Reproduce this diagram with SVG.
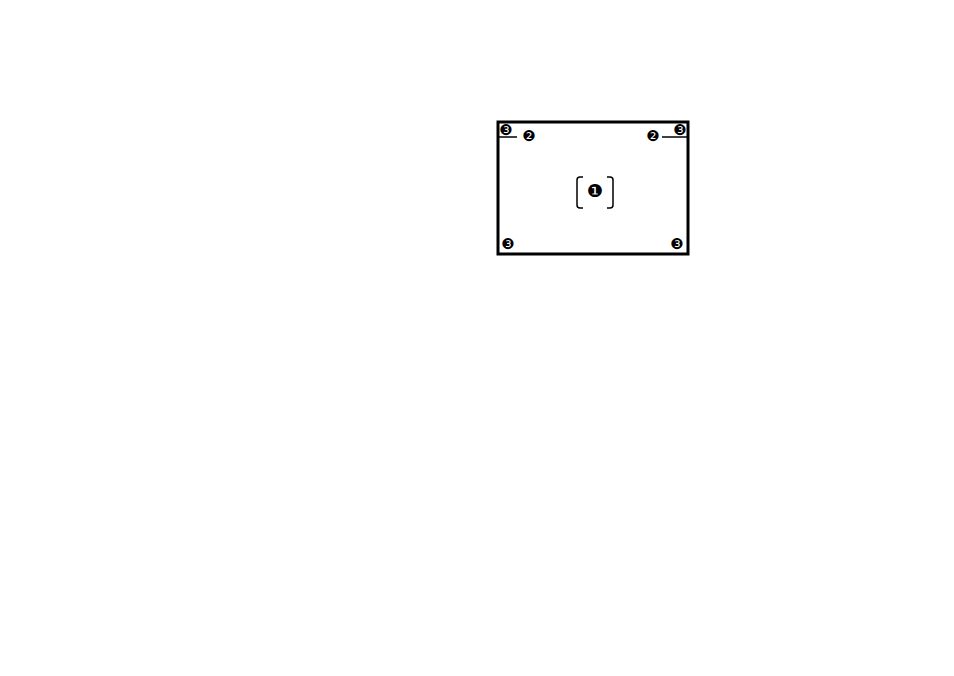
<svg xmlns="http://www.w3.org/2000/svg" width="954" height="676" viewBox="0 0 954 676">
<style>
.lbl{font-family:"DejaVu Sans",sans-serif;font-size:15px;fill:#000;text-anchor:middle;dominant-baseline:central}
.big{font-size:18px}
.ln{stroke:#000;stroke-width:1.5;fill:none}
</style>
<rect width="954" height="676" fill="#fff"/>
<g id="frame">
<rect x="498" y="122" width="190" height="132" fill="#fff" stroke="#000" stroke-width="3"/>
</g>
<g id="connectors">
<line class="ln" x1="499" y1="137" x2="517" y2="137"/>
<line class="ln" x1="662" y1="137" x2="687" y2="137"/>
</g>
<g id="center">
<path class="ln" d="M583,177 H580 Q577,177 577,180 V205 Q577,208 580,208 H583"/>
<path class="ln" d="M607,177 H610 Q613,177 613,180 V205 Q613,208 610,208 H607"/>
<text class="lbl big" x="595" y="190">❶</text>
</g>
<g id="n2-left"><text class="lbl" x="529" y="136">❷</text></g>
<g id="n2-right"><text class="lbl" x="653" y="136">❷</text></g>
<g id="n3-tl"><text class="lbl" x="506" y="130">❸</text></g>
<g id="n3-tr"><text class="lbl" x="680" y="130">❸</text></g>
<g id="n3-bl"><text class="lbl" x="508" y="244">❸</text></g>
<g id="n3-br"><text class="lbl" x="677" y="244">❸</text></g>
</svg>
